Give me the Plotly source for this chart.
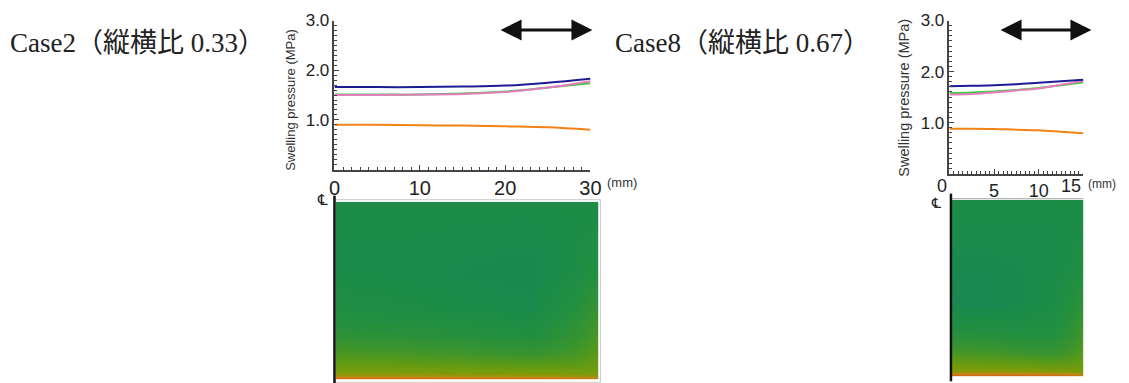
import plotly.graph_objects as go

# ---------------- data ----------------
# Case2 (aspect ratio 0.33): distance (mm) vs swelling pressure (MPa)
c2_x = [0, 5, 10, 15, 20, 25, 30]
c2_blue = [1.66, 1.66, 1.66, 1.67, 1.69, 1.75, 1.83]
c2_green = [1.51, 1.51, 1.51, 1.53, 1.57, 1.65, 1.74]
c2_pink = [1.50, 1.50, 1.51, 1.52, 1.56, 1.65, 1.78]
c2_orange = [0.90, 0.90, 0.89, 0.885, 0.87, 0.85, 0.80]

# Case8 (aspect ratio 0.67)
c8_x = [0, 2.5, 5, 7.5, 10, 12.5, 15]
c8_blue = [1.71, 1.72, 1.73, 1.75, 1.78, 1.81, 1.84]
c8_green = [1.58, 1.59, 1.61, 1.64, 1.68, 1.73, 1.79]
c8_pink = [1.55, 1.56, 1.59, 1.63, 1.67, 1.74, 1.82]
c8_orange = [0.88, 0.88, 0.875, 0.86, 0.85, 0.82, 0.79]

y_tickvals = [1, 2, 3]
y_ticktext = ["1.0", "2.0", "3.0"]
c2_xticks = [0, 10, 20, 30]
c8_xticks = [0, 5, 10, 15]
c8_xticktext = ["", "5", "10", ""]   # end labels drawn flush with the axis ends
c8_end_labels = [(0, "0"), (15, "15")]

# contour fields (normalised position, colour index 0=red ... 1=deep green)
c2_field_x = [0.0, 0.25, 0.5, 0.75, 0.9, 1.0]
c2_field_y = [0.0, 0.012, 0.03, 0.07, 0.15, 0.25, 0.4, 0.6, 0.8, 1.0]
c2_field_z = [
    [0.00, 0.00, 0.00, 0.00, 0.00, 0.02],
    [0.10, 0.10, 0.10, 0.10, 0.12, 0.15],
    [0.25, 0.25, 0.26, 0.27, 0.28, 0.30],
    [0.35, 0.36, 0.38, 0.40, 0.40, 0.36],
    [0.55, 0.58, 0.62, 0.68, 0.60, 0.45],
    [0.76, 0.78, 0.82, 0.88, 0.72, 0.55],
    [0.90, 0.92, 0.95, 0.97, 0.85, 0.68],
    [0.95, 0.96, 0.98, 0.99, 0.93, 0.84],
    [0.95, 0.95, 0.96, 0.97, 0.94, 0.91],
    [0.94, 0.94, 0.94, 0.94, 0.94, 0.94],
]

c8_field_x = [0.0, 0.25, 0.5, 0.75, 0.9, 1.0]
c8_field_y = [0.0, 0.013, 0.03, 0.07, 0.14, 0.25, 0.4, 0.6, 0.8, 1.0]
c8_field_z = [
    [0.00, 0.00, 0.00, 0.00, 0.02, 0.04],
    [0.12, 0.12, 0.12, 0.13, 0.15, 0.18],
    [0.26, 0.26, 0.27, 0.28, 0.30, 0.32],
    [0.36, 0.37, 0.39, 0.42, 0.40, 0.36],
    [0.58, 0.60, 0.65, 0.70, 0.60, 0.48],
    [0.85, 0.86, 0.88, 0.88, 0.75, 0.60],
    [1.00, 1.00, 0.98, 0.94, 0.84, 0.74],
    [0.99, 0.99, 0.98, 0.96, 0.92, 0.86],
    [0.96, 0.96, 0.96, 0.96, 0.94, 0.92],
    [0.94, 0.94, 0.94, 0.94, 0.94, 0.94],
]

field_colorscale = [
    [0.00, "#c83c1e"],
    [0.08, "#d4701a"],
    [0.16, "#b2900e"],
    [0.28, "#7c9b0a"],
    [0.45, "#5a9a18"],
    [0.65, "#3a9430"],
    [0.85, "#238f40"],
    [0.94, "#1d8c47"],
    [1.00, "#1a8850"],
]

COL_BLUE = "#1c1c96"
COL_GREEN = "#3ccc3c"
COL_PINK = "#e67cc0"
COL_ORANGE = "#f28214"

W, H = 1129, 383
# observed placement of the figure in the photographed page; map target pixels
OX, SX = 5.5, 0.985
OY, SY = 9.0, 0.973


def px(x):
    return min((x - OX) / SX / W, 1.0)


def py(y):
    return 1 - (y - OY) / SY / H


fig = go.Figure()

for xs, ys, col in [(c2_x, c2_orange, COL_ORANGE), (c2_x, c2_green, COL_GREEN),
                    (c2_x, c2_pink, COL_PINK), (c2_x, c2_blue, COL_BLUE)]:
    fig.add_trace(go.Scatter(x=xs, y=ys, mode="lines", line=dict(color=col, width=2),
                             xaxis="x", yaxis="y", showlegend=False, line_shape="spline"))
for xs, ys, col in [(c8_x, c8_orange, COL_ORANGE), (c8_x, c8_green, COL_GREEN),
                    (c8_x, c8_pink, COL_PINK), (c8_x, c8_blue, COL_BLUE)]:
    fig.add_trace(go.Scatter(x=xs, y=ys, mode="lines", line=dict(color=col, width=2),
                             xaxis="x2", yaxis="y2", showlegend=False, line_shape="spline"))

fig.add_trace(go.Heatmap(x=c2_field_x, y=c2_field_y, z=c2_field_z, colorscale=field_colorscale,
                         zmin=0, zmax=1, zsmooth="best", showscale=False, hoverinfo="skip",
                         xaxis="x3", yaxis="y3"))
fig.add_trace(go.Heatmap(x=c8_field_x, y=c8_field_y, z=c8_field_z, colorscale=field_colorscale,
                         zmin=0, zmax=1, zsmooth="best", showscale=False, hoverinfo="skip",
                         xaxis="x4", yaxis="y4"))

AX_COL = "#444444"
tickfont_y = dict(family="Liberation Sans, Arial", size=17, color="#222")
tickfont_x = dict(family="Liberation Sans, Arial", size=20, color="#222")


def line_x(domain, rng, ticks, minor, anchor, fsize, ticktext=None):
    d = dict(domain=domain, range=rng, anchor=anchor, showgrid=False, zeroline=False,
             showline=True, linecolor=AX_COL, linewidth=1.5, ticks="inside", ticklen=5,
             tickwidth=1.2, tickcolor=AX_COL, tickvals=ticks, tickfont=dict(tickfont_x, size=fsize),
             minor=dict(dtick=minor, ticks="inside", ticklen=3, tickwidth=1, tickcolor=AX_COL),
             fixedrange=True)
    if ticktext is not None:
        d["ticktext"] = ticktext
    return d


def line_y(domain, anchor):
    return dict(domain=domain, range=[0, 3], anchor=anchor, showgrid=False, zeroline=False,
                showline=True, linecolor=AX_COL, linewidth=1.5, ticks="inside", ticklen=5,
                tickwidth=1.2, tickcolor=AX_COL, tickvals=y_tickvals, ticktext=y_ticktext,
                tickfont=tickfont_y,
                minor=dict(dtick=0.1, ticks="inside", ticklen=3, tickwidth=1, tickcolor=AX_COL),
                fixedrange=True)


hidden = dict(visible=False, showgrid=False, zeroline=False, fixedrange=True)

fig.update_layout(
    width=W, height=H, margin=dict(l=0, r=0, t=0, b=0),
    paper_bgcolor="white", plot_bgcolor="white", showlegend=False,
    xaxis=line_x([px(334), px(590)], [0, 30], c2_xticks, 1, "y", 20),
    yaxis=line_y([py(169), py(20.5)], "x"),
    xaxis2=line_x([px(949), px(1083)], [0, 15], c8_xticks, 0.5, "y2", 18, c8_xticktext),
    yaxis2=line_y([py(173), py(20.5)], "x2"),
    xaxis3=dict(hidden, domain=[px(335), px(598)], range=[0, 1], anchor="y3"),
    yaxis3=dict(hidden, domain=[py(378), py(201)], range=[0, 1], anchor="x3"),
    xaxis4=dict(hidden, domain=[px(951), px(1083)], range=[0, 1], anchor="y4"),
    yaxis4=dict(hidden, domain=[py(375), py(199)], range=[0, 1], anchor="x4"),
)

title_font = dict(family="Liberation Serif, Noto Sans CJK JP", size=27, color="#222")
annotations = [
    dict(text="Case2（縦横比 0.33）", x=px(8), y=py(43), xanchor="left", yanchor="middle",
         font=title_font),
    dict(text="Case8（縦横比 0.67）", x=px(613), y=py(43), xanchor="left", yanchor="middle",
         font=title_font),
    dict(text="Swelling pressure (MPa)", x=px(290), y=py(99), textangle=-90,
         xanchor="center", yanchor="middle",
         font=dict(family="Liberation Sans, Arial", size=13, color="#333")),
    dict(text="Swelling pressure (MPa)", x=px(904), y=py(97), textangle=-90,
         xanchor="center", yanchor="middle",
         font=dict(family="Liberation Sans, Arial", size=14.5, color="#333")),
    dict(text="(mm)", x=px(605), y=py(182), xanchor="left", yanchor="middle",
         font=dict(family="Liberation Sans, Arial", size=13, color="#333")),
    dict(text="(mm)", x=1.0, y=py(183), xanchor="right", yanchor="middle",
         font=dict(family="Liberation Sans, Arial", size=12, color="#333")),
    dict(text="℄", x=px(322), y=py(199), xanchor="center", yanchor="middle",
         font=dict(family="DejaVu Sans", size=15, color="#222")),
    dict(text="℄", x=px(936), y=py(202), xanchor="center", yanchor="middle",
         font=dict(family="DejaVu Sans", size=14, color="#222")),
]
for xv, label in c8_end_labels:
    annotations.append(dict(text=label, x=xv, xref="x2", y=py(185), xanchor="right",
                            yanchor="middle",
                            font=dict(family="Liberation Sans, Arial", size=18, color="#222")))
# double-headed arrows
for xh, length in [(592, 92), (1091, 91)]:
    annotations.append(dict(x=px(xh), y=py(30), xref="paper", yref="paper", ax=-length / SX, ay=0,
                            axref="pixel", ayref="pixel", showarrow=True, arrowhead=2,
                            arrowside="end+start", arrowsize=1.4, arrowwidth=3,
                            arrowcolor="#111", text=""))
for a in annotations:
    a.setdefault("xref", "paper")
    a.setdefault("yref", "paper")
    a.setdefault("showarrow", False)
fig.update_layout(annotations=annotations)

shapes = [
    # grey frame around Case2 field
    dict(type="rect", xref="paper", yref="paper", x0=px(334), x1=px(600), y0=max(py(382), 0.002),
         y1=py(199), line=dict(color="#cccccc", width=1)),
    # grey line on top of Case8 field
    dict(type="line", xref="paper", yref="paper", x0=px(951), x1=px(1083), y0=py(198), y1=py(198),
         line=dict(color="#aaaaaa", width=1)),
    # symmetry axis lines
    dict(type="line", xref="paper", yref="paper", x0=px(334), x1=px(334), y0=0, y1=py(195),
         line=dict(color="#111", width=2.5)),
    dict(type="line", xref="paper", yref="paper", x0=px(950.5), x1=px(950.5), y0=py(380), y1=py(193),
         line=dict(color="#111", width=2.5)),
]
fig.update_layout(shapes=shapes)

page_fix = (
    "document.documentElement.style.margin='0';"
    "document.documentElement.style.overflow='hidden';"
    "document.body.style.margin='0';document.body.style.overflow='hidden';"
    "var gd=document.getElementById('{plot_id}');"
    "gd.style.position='fixed';gd.style.left='0px';gd.style.top='0px';"
)
fig.write_html("out.html", config=dict(responsive=False, displayModeBar=False),
               post_script=page_fix)
